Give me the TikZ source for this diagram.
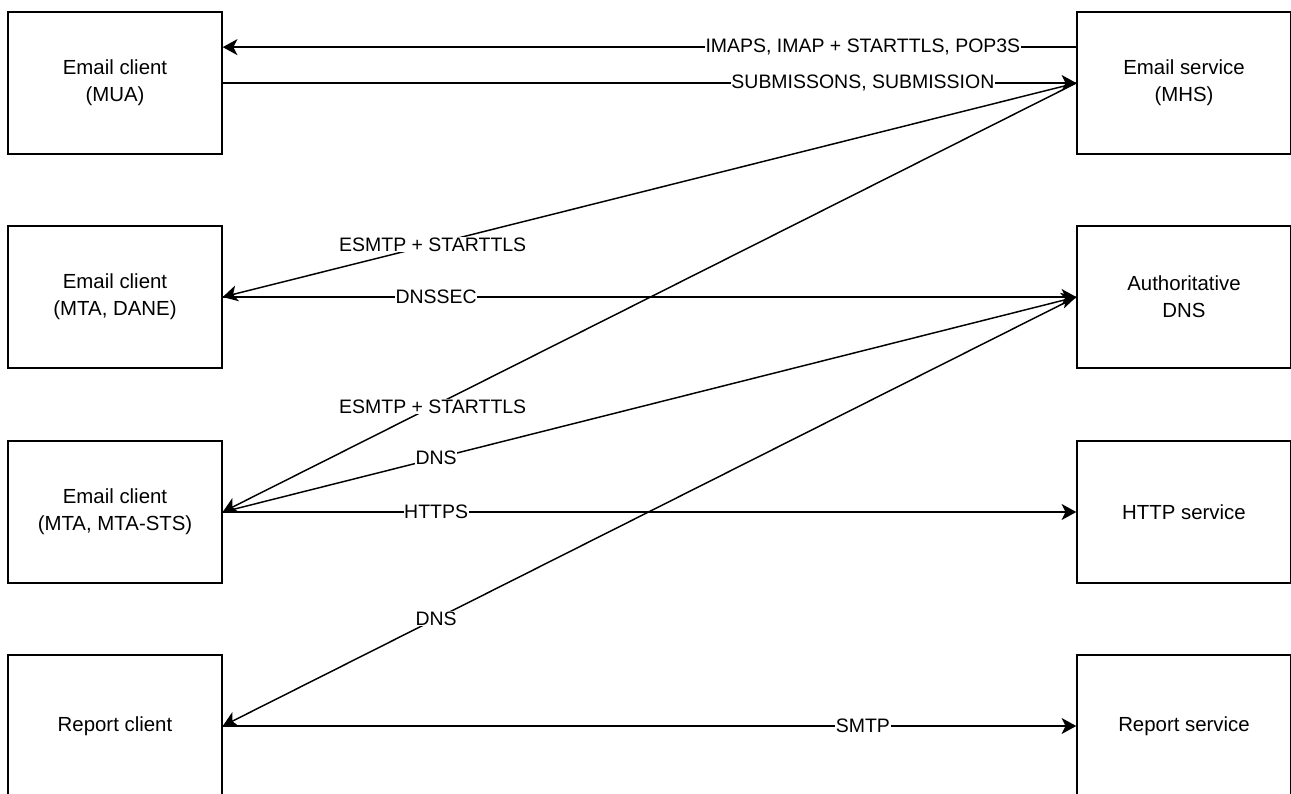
\documentclass[tikz,border=0pt]{standalone}
\usepackage{fontspec}
\setmainfont{Liberation Sans}
\usetikzlibrary{arrows.meta,calc}
\tikzset{every path/.style={line width=1.1pt}}
\tikzset{box/.style={draw,minimum width=160.5pt,minimum height=106.5pt,align=center,font=\fontsize{15.3}{20}\selectfont}}
\tikzset{lbl/.style={fill=white,inner sep=0.5pt,font=\fontsize{14.6}{17}\selectfont}}
\tikzset{tip/.style={-{Stealth[length=11pt,width=12pt,inset=3pt]}}}

\begin{document}
\begin{tikzpicture}[x=0.75pt,y=-0.75pt]
\useasboundingbox (0,0) rectangle (1291,793);

% clients
\node[box] (mua) at (115,83) {Email client\\(MUA)};
\node[box] (dane) at (115,297) {Email client\\(MTA, DANE)};
\node[box] (sts) at (115,512) {Email client\\(MTA, MTA-STS)};
\node[box] (report) at (115,726) {Report client};

% services
\node[box] (mhs) at (1184,83) {Email service\\(MHS)};
\node[box] (dns) at (1184,297) {Authoritative\\DNS};
\node[box] (http) at (1184,512) {HTTP service};
\node[box] (rsvc) at (1184,726) {Report service};

\draw[tip] ($(mhs.north west)!.25!(mhs.south west)$) -- node[lbl,pos=.25]{IMAPS, IMAP + STARTTLS, POP3S} ($(mua.north east)!.25!(mua.south east)$);
\draw[tip] (mua.east) -- node[lbl,pos=.75]{SUBMISSONS, SUBMISSION} (mhs.west);
\draw[tip] (mhs.west) -- node[lbl,pos=.754]{ESMTP + STARTTLS} (dane.east);
\draw[tip] (dane.east) -- node[lbl,pos=.25]{DNSSEC} (dns.west);
\draw[tip] (mhs.west) -- node[lbl,pos=.754]{ESMTP + STARTTLS} (sts.east);
\draw[tip] (sts.east) -- node[lbl,pos=.25]{DNS} (dns.west);
\draw[tip] (sts.east) -- node[lbl,pos=.25]{HTTPS} (http.west);
\draw[tip] (dns.west) -- node[lbl,pos=.75]{DNS} (report.east);
\draw[tip] (report.east) -- node[lbl,pos=.75]{SMTP} (rsvc.west);
\end{tikzpicture}
\end{document}
